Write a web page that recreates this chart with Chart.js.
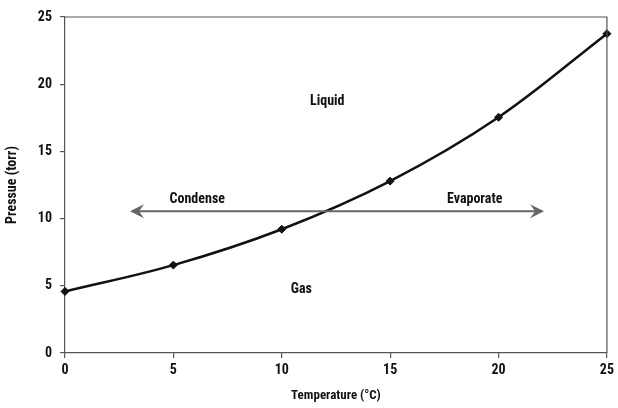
<!DOCTYPE html>
<html>
<head>
<meta charset="utf-8">
<script src="https://cdn.jsdelivr.net/npm/chart.js@4.4.1/dist/chart.umd.min.js"></script>
<style>
  html, body { margin: 0; padding: 0; background: #fff; }
  #wrap { width: 618px; height: 408px; }
</style>
</head>
<body>
<div id="wrap"><canvas id="chart" width="618" height="408"></canvas></div>
<script>
// Vapour pressure data
const temps = [0, 5, 10, 15, 20, 25];
const pressures = [4.58, 6.54, 9.21, 12.79, 17.54, 23.76];
const tickValues = [0, 5, 10, 15, 20, 25];

// Annotations (data coordinates)
const arrowX = [3, 22.1];
const arrowY = 10.55;
const labelTexts = ['Liquid', 'Gas', 'Condense', 'Evaporate'];
const labelX = [12.1, 10.9, 6.1, 18.9];
const labelY = [18.7, 4.75, 11.45, 11.45];

const FONT = '"Roboto Condensed", "Liberation Sans", Arial, sans-serif';
const AXIS = '#555';

const annotations = {
    id: 'annotations',
    afterDatasetsDraw(chart) {
        const ctx = chart.ctx;
        const x = chart.scales.x;
        const y = chart.scales.y;
        const a = chart.chartArea;

        ctx.save();
        // box top/right
        ctx.strokeStyle = AXIS;
        ctx.lineWidth = 1.2;
        ctx.beginPath();
        ctx.moveTo(a.left, a.top);
        ctx.lineTo(a.right, a.top);
        ctx.lineTo(a.right, a.bottom);
        ctx.stroke();

        // double arrow
        const x1 = x.getPixelForValue(arrowX[0]);
        const x2 = x.getPixelForValue(arrowX[1]);
        const ya = y.getPixelForValue(arrowY);
        ctx.strokeStyle = '#666';
        ctx.fillStyle = '#666';
        ctx.lineWidth = 2;
        ctx.beginPath();
        ctx.moveTo(x1 + 6, ya);
        ctx.lineTo(x2 - 6, ya);
        ctx.stroke();
        ctx.beginPath();
        ctx.moveTo(x1, ya);
        ctx.lineTo(x1 + 14, ya - 7);
        ctx.lineTo(x1 + 9, ya);
        ctx.lineTo(x1 + 14, ya + 7);
        ctx.closePath();
        ctx.fill();
        ctx.beginPath();
        ctx.moveTo(x2, ya);
        ctx.lineTo(x2 - 14, ya - 7);
        ctx.lineTo(x2 - 9, ya);
        ctx.lineTo(x2 - 14, ya + 7);
        ctx.closePath();
        ctx.fill();

        // text labels
        ctx.fillStyle = '#111';
        ctx.font = 'bold 14px ' + FONT;
        ctx.textAlign = 'center';
        ctx.textBaseline = 'middle';
        labelTexts.forEach((t, i) => {
            ctx.fillText(t, x.getPixelForValue(labelX[i]), y.getPixelForValue(labelY[i]));
        });
        ctx.restore();
    }
};

new Chart(document.getElementById('chart').getContext('2d'), {
    type: 'line',
    data: {
        labels: temps,
        datasets: [{
            label: 'Pressure',
            data: temps.map((t, i) => ({ x: t, y: pressures[i] })),
            borderColor: '#111',
            backgroundColor: '#111',
            borderWidth: 2.5,
            tension: 0.35,
            pointStyle: 'rectRot',
            pointRadius: 4,
            pointBorderWidth: 1,
            pointBackgroundColor: '#111',
            pointBorderColor: '#111',
            fill: false,
            clip: false
        }]
    },
    options: {
        responsive: false,
        animation: false,
        layout: { padding: { left: 0, right: 10, top: 17, bottom: 0 } },
        plugins: {
            legend: { display: false },
            tooltip: { enabled: false }
        },
        scales: {
            x: {
                type: 'linear',
                min: 0,
                max: 25,
                afterBuildTicks: s => { s.ticks = tickValues.map(v => ({ value: v })); },
                afterFit: s => { s.height = 55; },
                border: { color: AXIS, width: 1.2 },
                grid: { drawOnChartArea: false, color: AXIS, tickLength: 5, lineWidth: 1.2 },
                ticks: { color: '#111', padding: 4, font: { family: FONT, size: 14, weight: 'bold' } },
                title: {
                    display: true,
                    text: 'Temperature (°C)',
                    color: '#111',
                    padding: { top: 8 },
                    font: { family: FONT, size: 13, weight: 'bold' }
                }
            },
            y: {
                min: 0,
                max: 25,
                afterBuildTicks: s => { s.ticks = tickValues.map(v => ({ value: v })); },
                afterFit: s => { s.width = 65; },
                border: { color: AXIS, width: 1.2 },
                grid: { drawOnChartArea: false, color: AXIS, tickLength: 5, lineWidth: 1.2 },
                ticks: { color: '#111', padding: 8, font: { family: FONT, size: 14, weight: 'bold' } },
                title: {
                    display: true,
                    text: 'Pressue (torr)',
                    color: '#111',
                    padding: { bottom: 6 },
                    font: { family: FONT, size: 14, weight: 'bold' }
                }
            }
        }
    },
    plugins: [annotations]
});
</script>
</body>
</html>
